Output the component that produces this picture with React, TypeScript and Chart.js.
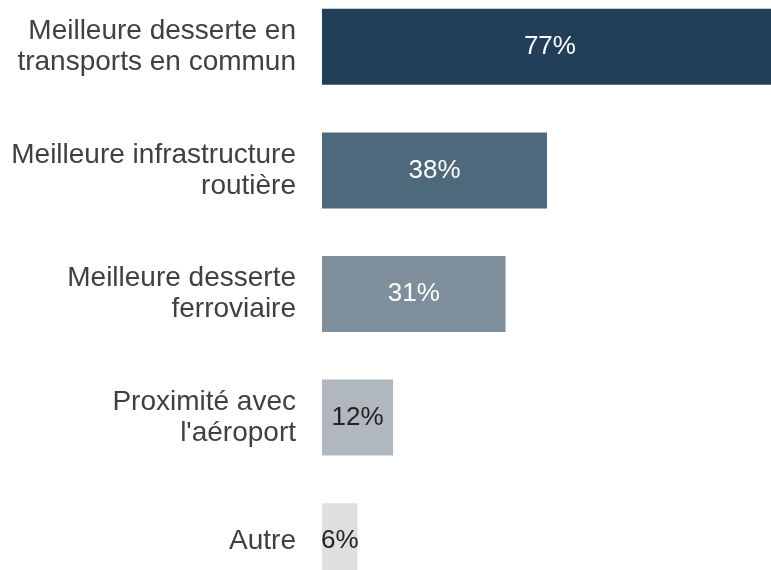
import React, { useEffect, useRef } from "react";
import { Chart, registerables } from "chart.js";

Chart.register(...registerables);

const categories: (string | string[])[] = [
  ["Meilleure desserte en", "transports en commun"],
  ["Meilleure infrastructure", "routière"],
  ["Meilleure desserte", "ferroviaire"],
  ["Proximité avec", "l'aéroport"],
  "Autre",
];
const values = [77, 38, 31, 12, 6];
const valueLabels = ["77%", "38%", "31%", "12%", "6%"];
const barColors = ["#223f59", "#4e687c", "#7e8e9b", "#b0b7bf", "#dfdfdf"];
const labelColors = ["#ffffff", "#ffffff", "#ffffff", "#222222", "#222222"];

const FONT = "'Liberation Sans', Arial, sans-serif";

const valueLabelPlugin = {
  id: "valueLabels",
  afterDatasetsDraw(chart: any) {
    const ctx = chart.ctx;
    const meta = chart.getDatasetMeta(0);
    ctx.save();
    ctx.font = `26px ${FONT}`;
    ctx.textAlign = "center";
    ctx.textBaseline = "middle";
    meta.data.forEach((el: any, i: number) => {
      const cx = (el.x + el.base) / 2;
      ctx.fillStyle = labelColors[i];
      ctx.fillText(valueLabels[i], cx, el.y);
    });
    ctx.restore();
  },
};

export default function App() {
  const ref = useRef<HTMLCanvasElement>(null);
  useEffect(() => {
    if (!ref.current) return;
    const chart = new Chart(ref.current, {
      type: "bar",
      data: {
        labels: categories,
        datasets: [
          {
            data: values,
            backgroundColor: barColors,
            borderWidth: 0,
            barPercentage: 0.615,
            categoryPercentage: 1,
          },
        ],
      },
      options: {
        indexAxis: "y",
        animation: false,
        responsive: true,
        maintainAspectRatio: false,
        layout: { padding: 0 },
        plugins: { legend: { display: false }, tooltip: { enabled: false } },
        scales: {
          x: { display: false, min: 0, max: 100 },
          y: {
            grid: { display: false, drawTicks: false },
            border: { display: false },
            ticks: {
              autoSkip: false,
              padding: 26,
              color: "#404040",
              font: { family: FONT, size: 28, lineHeight: 1.1 },
            },
            afterFit: (scale: any) => {
              scale.width = 322;
              scale.paddingTop = 0;
              scale.paddingBottom = 0;
            },
          },
        },
      },
      plugins: [valueLabelPlugin],
    });
    return () => chart.destroy();
  }, []);
  return (
    <div
      style={{
        position: "fixed",
        left: 0,
        top: 0,
        width: 771,
        height: 570,
        overflow: "hidden",
        background: "#ffffff",
      }}
    >
      <div style={{ position: "absolute", left: 0, top: -15, width: 914, height: 618 }}>
        <canvas ref={ref} />
      </div>
    </div>
  );
}
